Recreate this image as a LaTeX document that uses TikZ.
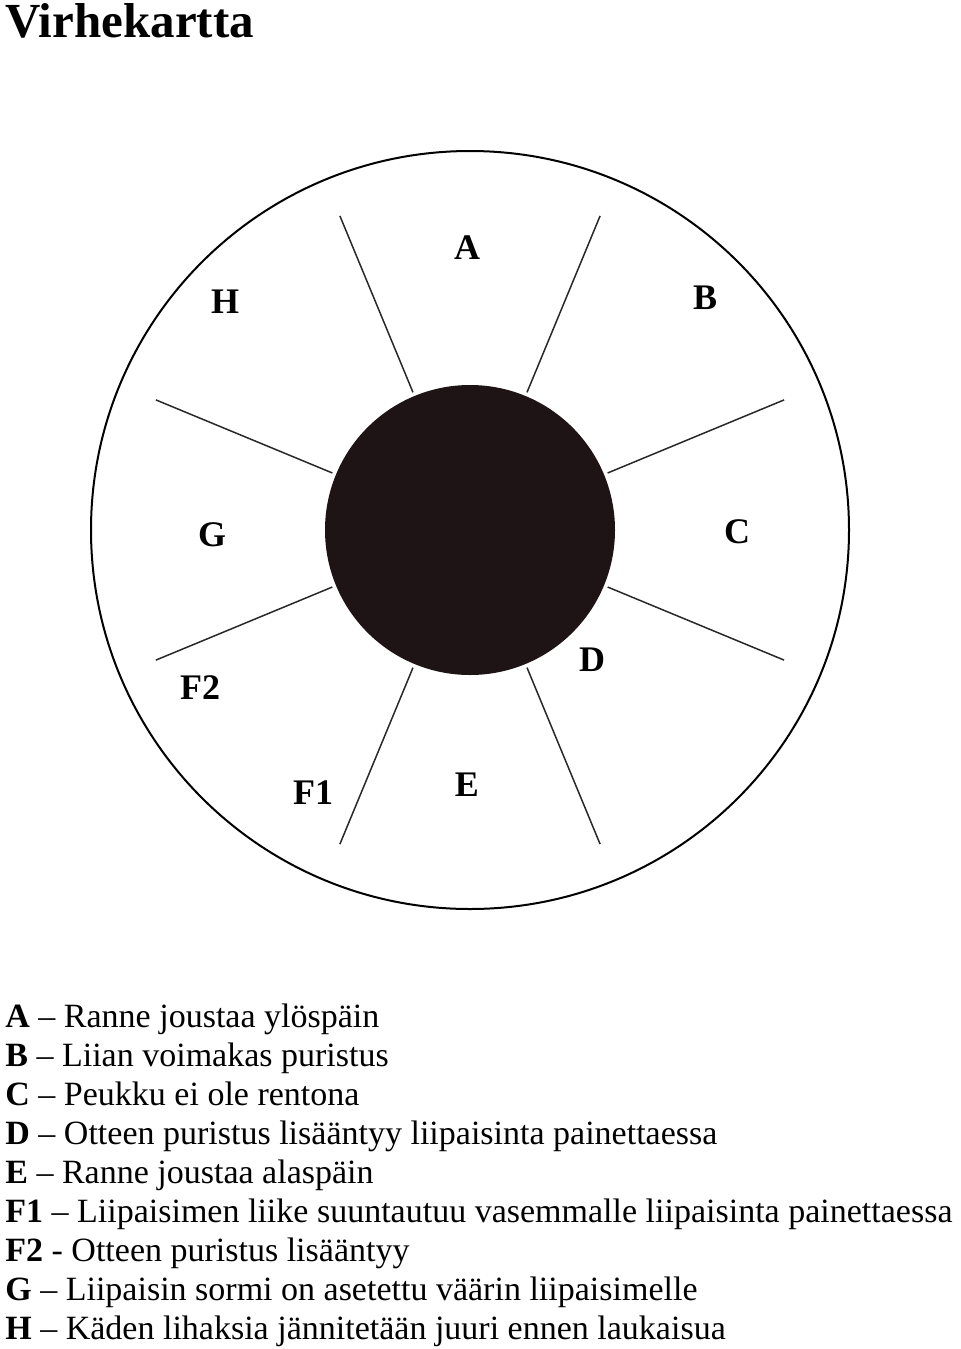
\documentclass[tikz,border=0pt]{standalone}
\usepackage{fontspec}
\setmainfont{Liberation Serif}
\usepackage{xcolor}

\definecolor{discfill}{RGB}{30,20,21}
\definecolor{spokegray}{RGB}{40,40,40}

\tikzset{
  spoke/.style={line width=0.75pt, spokegray},
  sectorlabel/.style={inner sep=0pt, font=\fontsize{18}{18}\selectfont\bfseries},
  legendline/.style={anchor=base west, inner sep=0pt, font=\fontsize{17}{17}\selectfont},
}

\begin{document}
\begin{tikzpicture}[x=0.5pt,y=-0.5pt]
  \useasboundingbox (0,0) rectangle (960,1349);
  \coordinate (centre) at (470,530);

  % Title
  \node[anchor=base west, inner sep=0pt, font=\fontsize{24.5}{24.5}\selectfont\bfseries]
        (title) at (5,37) {Virhekartta};

  % Outer ring
  \draw[line width=1pt] (centre) circle[radius=379];

  % Sector borders
  \draw[spoke] ([shift={(22.5:149)}]centre)  -- ([shift={(22.5:340)}]centre);
  \draw[spoke] ([shift={(67.5:149)}]centre)  -- ([shift={(67.5:340)}]centre);
  \draw[spoke] ([shift={(112.5:149)}]centre) -- ([shift={(112.5:340)}]centre);
  \draw[spoke] ([shift={(157.5:149)}]centre) -- ([shift={(157.5:340)}]centre);
  \draw[spoke] ([shift={(202.5:149)}]centre) -- ([shift={(202.5:340)}]centre);
  \draw[spoke] ([shift={(247.5:149)}]centre) -- ([shift={(247.5:340)}]centre);
  \draw[spoke] ([shift={(292.5:149)}]centre) -- ([shift={(292.5:340)}]centre);
  \draw[spoke] ([shift={(337.5:149)}]centre) -- ([shift={(337.5:340)}]centre);

  % Black centre disc
  \fill[discfill] (centre) circle[radius=145];

  % Sector letters
  \node[sectorlabel] (labA)  at (467,248) {A};
  \node[sectorlabel] (labB)  at (705,298) {B};
  \node[sectorlabel] (labC)  at (737,532) {C};
  \node[sectorlabel] (labD)  at (592,660) {D};
  \node[sectorlabel] (labE)  at (467,785) {E};
  \node[sectorlabel] (labF1) at (313,793) {F1};
  \node[sectorlabel] (labF2) at (200,688) {F2};
  \node[sectorlabel] (labG)  at (212,535) {G};
  \node[sectorlabel] (labH)  at (225,302) {H};

  % Legend
  \node[legendline] (legA)  at (5,1027.0) {\textbf{A} – Ranne joustaa ylöspäin};
  \node[legendline] (legB)  at (5,1066.1) {\textbf{B} – Liian voimakas puristus};
  \node[legendline] (legC)  at (5,1105.2) {\textbf{C} – Peukku ei ole rentona};
  \node[legendline] (legD)  at (5,1144.3) {\textbf{D} – Otteen puristus lisääntyy liipaisinta painettaessa};
  \node[legendline] (legE)  at (5,1183.4) {\textbf{E} – Ranne joustaa alaspäin};
  \node[legendline] (legF1) at (5,1222.5) {\textbf{F1} – Liipaisimen liike suuntautuu vasemmalle liipaisinta painettaessa};
  \node[legendline] (legF2) at (5,1261.6) {\textbf{F2} - Otteen puristus lisääntyy};
  \node[legendline] (legG)  at (5,1300.7) {\textbf{G} – Liipaisin sormi on asetettu väärin liipaisimelle};
  \node[legendline] (legH)  at (5,1339.8) {\textbf{H} – Käden lihaksia jännitetään juuri ennen laukaisua};
\end{tikzpicture}
\end{document}
